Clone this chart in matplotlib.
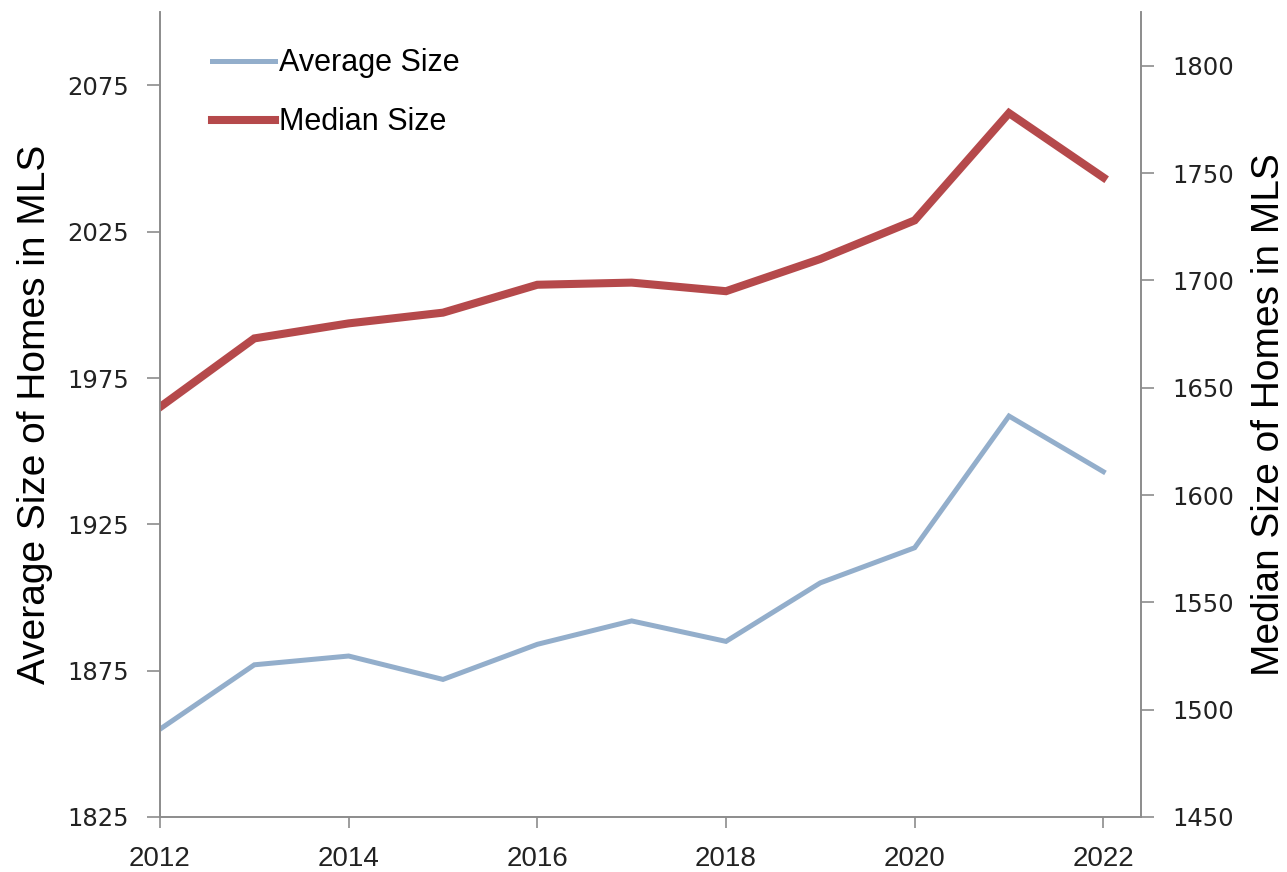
import matplotlib.pyplot as plt
from matplotlib.lines import Line2D

years = [2012, 2013, 2014, 2015, 2016, 2017, 2018, 2019, 2020, 2021, 2022]
avg_size = [1855, 1877, 1880, 1872, 1884, 1892, 1885, 1905, 1917, 1962, 1943]
median_size = [1641, 1673, 1680, 1685, 1698, 1699, 1695, 1710, 1728, 1778, 1748]

left_ticks = [1825, 1875, 1925, 1975, 2025, 2075]
right_ticks = [1450, 1500, 1550, 1600, 1650, 1700, 1750, 1800]
year_ticks = [2012, 2014, 2016, 2018, 2020, 2022]

blue = '#93AECB'
red = '#B5494B'
gray = '#8C8C8C'
label_font = 'Liberation Sans'

fig = plt.figure(figsize=(12.87, 8.72), dpi=100)
ax = fig.add_axes([0.1243, 0.0631, 0.7623, 0.9229])
ax2 = ax.twinx()

ax.plot(years, avg_size, color=blue, lw=3.6, solid_joinstyle='miter')
ax2.plot(years, median_size, color=red, lw=5.8, solid_joinstyle='miter')

ax.set_xlim(2012, 2022.4)
ax.set_ylim(1825, 2100)
ax2.set_ylim(1450, 1825)

# tick styling first, then the labels themselves
for a in (ax, ax2):
    for s in a.spines.values():
        s.set_color(gray)
        s.set_linewidth(1.2)
    a.tick_params(direction='out', length=9.5, width=1.2, color=gray, pad=13,
                  labelsize=17.5, labelcolor='#222222')
ax.tick_params(axis='x', length=8, pad=13, labelsize=20)
ax.spines['top'].set_visible(False)
ax2.spines['top'].set_visible(False)

ax.set_xticks(year_ticks)
ax.set_xticklabels([str(y) for y in year_ticks])
for lbl in ax.get_xticklabels():
    lbl.set_family(label_font)
ax.set_yticks(left_ticks)
ax.set_yticklabels([str(v) for v in left_ticks])
ax2.set_yticks(right_ticks)
ax2.set_yticklabels([str(v) for v in right_ticks])

ax.set_ylabel('Average Size of Homes in MLS', family=label_font, fontsize=28, labelpad=10)
ax2.set_ylabel('Median Size of Homes in MLS', family=label_font, fontsize=28, labelpad=12)

handles = [Line2D([], [], color=blue, lw=3.6), Line2D([], [], color=red, lw=5.8)]
ax.legend(handles, ['Average Size', 'Median Size'], loc='upper left',
          bbox_to_anchor=(0.053, 0.955), frameon=False, borderpad=0,
          borderaxespad=0, handlelength=2.05, handletextpad=0.15,
          labelspacing=0.95, prop={'family': label_font, 'size': 22})

fig.savefig('out.png', dpi=100)
